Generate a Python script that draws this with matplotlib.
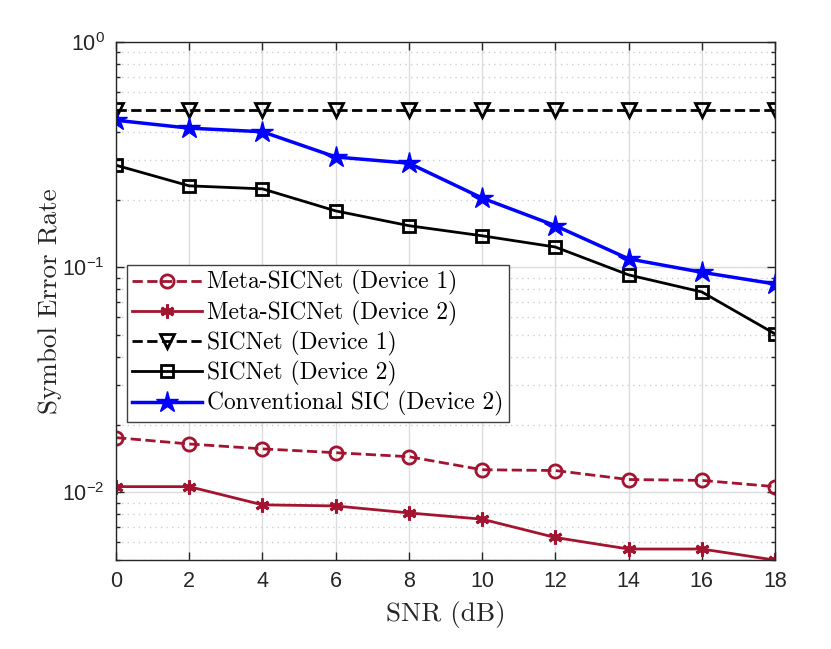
import numpy as np
import matplotlib
matplotlib.use("Agg")
import matplotlib.pyplot as plt
from matplotlib.ticker import LogLocator, FixedLocator, NullFormatter

# Data
snr = [0, 2, 4, 6, 8, 10, 12, 14, 16, 18]
meta_dev1 = [0.0175, 0.0164, 0.0156, 0.0150, 0.0144, 0.0126, 0.0125, 0.0114, 0.0113, 0.0106]
meta_dev2 = [0.0106, 0.0106, 0.0088, 0.0087, 0.0081, 0.0076, 0.0063, 0.0056, 0.0056, 0.0050]
sic_dev1 = [0.50, 0.50, 0.50, 0.50, 0.50, 0.50, 0.50, 0.50, 0.50, 0.50]
sic_dev2 = [0.284, 0.230, 0.223, 0.178, 0.153, 0.138, 0.123, 0.0925, 0.0777, 0.0506]
conv_dev2 = [0.450, 0.415, 0.400, 0.309, 0.290, 0.203, 0.153, 0.109, 0.095, 0.0843]

labels = ["Meta-SICNet (Device 1)", "Meta-SICNet (Device 2)",
          "SICNet (Device 1)", "SICNet (Device 2)",
          "Conventional SIC (Device 2)"]

dark_red = "#A2142F"
serif = "cmr10"

plt.rcParams["font.family"] = ["Liberation Sans", "DejaVu Sans"]
plt.rcParams["mathtext.fontset"] = "custom"
plt.rcParams["mathtext.rm"] = "Liberation Sans"
plt.rcParams["axes.unicode_minus"] = False

fig = plt.figure(figsize=[8.31, 6.49], dpi=100)
ax = fig.add_axes([0.1396, 0.137, 0.7930, 0.798])

asterisk = (6, 2, 0)
ax.plot(snr, meta_dev1, "--", color=dark_red, lw=2, marker="o", ms=9.5,
        mfc="none", mew=2, label=labels[0])
ax.plot(snr, meta_dev2, "-", color=dark_red, lw=2, marker=asterisk, ms=10,
        mew=2.2, label=labels[1])
ax.plot(snr, sic_dev1, "--", color="black", lw=2, marker="v", ms=10.5,
        mfc="none", mew=2, label=labels[2])
ax.plot(snr, sic_dev2, "-", color="black", lw=2, marker="s", ms=8,
        mfc="none", mew=2, label=labels[3])
ax.plot(snr, conv_dev2, "-", color="blue", lw=2.5, marker="*", ms=16,
        label=labels[4])

ax.set_yscale("log")
ax.set_xlim(0, 18)
ax.set_ylim(0.005, 1)
ax.xaxis.set_major_locator(FixedLocator(snr))
ax.yaxis.set_minor_locator(LogLocator(base=10, subs=np.arange(2, 10), numticks=20))
ax.yaxis.set_minor_formatter(NullFormatter())
ax.set_yticks([0.01, 0.1, 1])
ax.set_yticklabels([r"$10^{-2}$", r"$10^{-1}$", r"$10^{0}$"])

ax.tick_params(which="both", direction="in", top=True, right=True,
               labelsize=15.5, colors="#262626", width=1)
ax.tick_params(which="major", length=6, pad=8)
ax.tick_params(which="minor", length=3)
for s in ax.spines.values():
    s.set_color("#262626")
    s.set_linewidth(1)

ax.grid(which="major", color="#dcdcdc", lw=1, ls="-")
ax.grid(which="minor", axis="y", color="#cfcfcf", lw=1, ls=(0, (1, 3)))
ax.set_axisbelow(True)

ax.set_xlabel("SNR (dB)", fontfamily=serif, fontsize=19.5, color="#262626",
              labelpad=6)
ax.set_ylabel("Symbol Error Rate", fontfamily=serif, fontsize=19.5,
              color="#262626", labelpad=0)

leg = ax.legend(loc="upper left", bbox_to_anchor=(0.0165, 0.5695),
                prop={"family": serif, "size": 16.9}, fancybox=False,
                framealpha=1, edgecolor="#404040", handlelength=3.0,
                handletextpad=0.2, borderpad=0.22, labelspacing=0.22,
                borderaxespad=0)
leg.get_frame().set_linewidth(1)

plt.savefig("out.png", dpi=100)
